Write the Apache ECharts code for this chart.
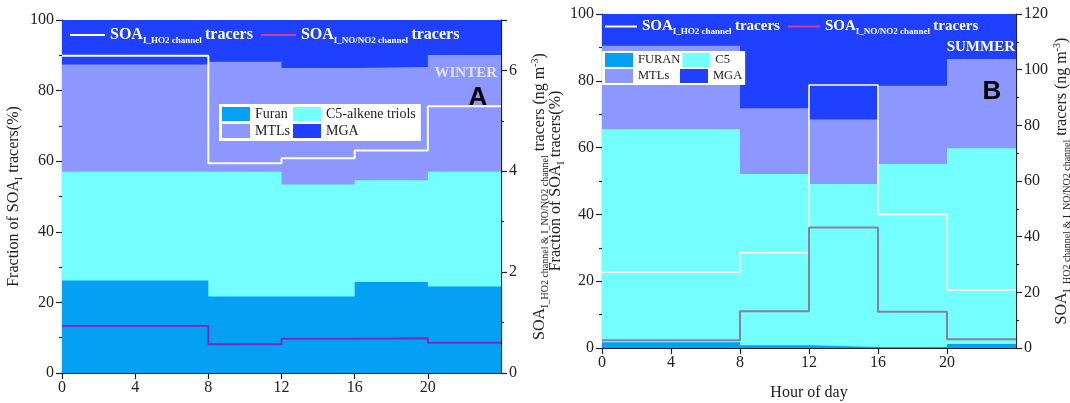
<!DOCTYPE html>
<html>
<head>
<meta charset="utf-8">
<script src="https://cdn.jsdelivr.net/npm/echarts@6/dist/echarts.min.js"></script>
<style>
  html, body { margin: 0; padding: 0; background: #fff; }
  #chart { width: 1070px; height: 403px; }
</style>
</head>
<body>
<div id="chart"></div>
<script>
// Sampling blocks (hour of day): each value holds from one boundary to the next.
const hourBounds = [0, 8, 12, 16, 20, 24];

// Winter (A): fraction of SOA_I tracers, % per block
const winterFuran = [26.2, 21.7, 21.7, 25.8, 24.5];
const winterC5    = [30.8, 35.3, 31.7, 28.8, 32.5];
const winterMTLs  = [30.4, 31.2, 33.0, 32.1, 33.1];
const winterMGA   = [12.6, 11.8, 13.6, 13.3, 9.9];
// Winter tracer concentrations, ng m-3
const winterHO2   = [6.29, 4.16, 4.26, 4.41, 5.29];
const winterNO    = [0.93, 0.57, 0.68, 0.69, 0.60];

// Summer (B): fraction of SOA_I tracers, % per block
const summerFuran = [1.7, 0.8, 0.3, 0.3, 1.2];
const summerC5    = [63.8, 51.3, 48.8, 54.8, 58.6];
const summerMTLs  = [25.0, 19.7, 19.3, 23.4, 26.7];
const summerMGA   = [9.5, 28.2, 31.6, 21.5, 13.5];
// Summer tracer concentrations, ng m-3
const summerHO2   = [27.2, 34.2, 94.5, 48.0, 20.8];
const summerNO    = [2.8, 13.2, 43.3, 13.0, 3.1];

const COLORS = { furan: '#03a0f3', c5: '#74ffff', mtls: '#8c97ff', mga: '#1f40ff' };
const SERIF = '"Liberation Serif", "Times New Roman", serif';
const HO2_NAME = 'SOA_I_HO2 channel tracers';
const NO_NAME = 'SOA_I_NO/NO2 channel tracers';

// value per block -> step points, last block repeated at the closing boundary
function steps(vals) {
  return hourBounds.map((h, i) => [h, vals[Math.min(i, vals.length - 1)]]);
}
// running totals so that each layer is painted from 0 up to its cumulative top
function cumulative(layers) {
  const out = [];
  let acc = layers[0].map(() => 0);
  layers.forEach(l => { acc = acc.map((a, i) => a + l[i]); out.push(acc.slice()); });
  return out;
}

function areaLayers(layers, names, colors, xi, yi) {
  const cum = cumulative(layers);
  return cum.map((vals, k) => ({
    type: 'line', name: names[k], xAxisIndex: xi, yAxisIndex: yi,
    step: 'end', symbol: 'none', silent: true, animation: false,
    lineStyle: { width: 0 }, itemStyle: { color: colors[k] },
    areaStyle: { color: colors[k], opacity: 1 },
    z: 2, data: steps(vals)
  })).reverse();
}
function stepLine(name, vals, color, width, xi, yi) {
  return {
    type: 'line', name, xAxisIndex: xi, yAxisIndex: yi,
    step: 'end', symbol: 'none', silent: true, animation: false,
    lineStyle: { color, width }, itemStyle: { color },
    z: 3, data: steps(vals)
  };
}

const axisBase = {
  axisLine: { show: true, lineStyle: { color: '#222', width: 1.2 } },
  axisTick: { show: true, length: 6, lineStyle: { color: '#222', width: 1.2 } },
  minorTick: { show: true, splitNumber: 2, length: 3, lineStyle: { color: '#222', width: 1.2 } },
  splitLine: { show: false },
  axisLabel: { color: '#222', fontFamily: SERIF, fontSize: 16, margin: 8 }
};
const nameRich = {
  n: { fontFamily: SERIF, fontSize: 16, color: '#222' },
  s: { fontFamily: SERIF, fontSize: 10, color: '#222', verticalAlign: 'bottom', lineHeight: 20 },
  p: { fontFamily: SERIF, fontSize: 10, color: '#222', verticalAlign: 'top', lineHeight: 20 }
};
const fracName = '{n|Fraction of SOA}{s|I}{n| tracers(%)}';
const concName = '{n|SOA}{s|I_HO2 channel & I_NO/NO2 channel}{n| tracers (ng m}{p|-3}{n|)}';

function xAxis(gi, extra) {
  return Object.assign({}, axisBase, {
    type: 'value', gridIndex: gi, min: 0, max: 24, interval: 4,
    minorTick: { show: false },
    axisLabel: Object.assign({}, axisBase.axisLabel, { margin: 7, showMaxLabel: false })
  }, extra || {});
}
function yAxis(gi, pos, min, max, interval, name, gap, extra) {
  return Object.assign({}, axisBase, {
    type: 'value', gridIndex: gi, position: pos, min, max, interval,
    name, nameLocation: 'middle', nameRotate: 90, nameGap: gap,
    nameTextStyle: { rich: nameRich }
  }, extra || {});
}

function lineLegend(left, top, size, iconW, gap) {
  const rich = {
    b: { fontFamily: SERIF, fontSize: size, fontWeight: 'bold', color: '#fff' },
    s: { fontFamily: SERIF, fontSize: 9, fontWeight: 'bold', color: '#fff', verticalAlign: 'bottom', lineHeight: 20 }
  };
  return {
    left, top, orient: 'horizontal', selectedMode: false, z: 50, padding: 0,
    icon: 'rect', itemWidth: iconW, itemHeight: 2, itemGap: gap,
    textStyle: { rich },
    formatter: name => name === HO2_NAME
      ? '{b|SOA}{s|I_HO2 channel} {b|tracers}'
      : '{b|SOA}{s|I_NO/NO2 channel} {b|tracers}',
    data: [
      { name: HO2_NAME, itemStyle: { color: '#ffffff' } },
      { name: NO_NAME, itemStyle: { color: '#c8409c' } }
    ]
  };
}

// two-by-two fill legend; the first column gets a fixed text width so columns line up
function fillLegend(left, top, names, firstColW, size, iconH, gap, boxW, pad) {
  const rich = {
    w: { fontFamily: SERIF, fontSize: size, color: '#222', width: firstColW, lineHeight: iconH },
    t: { fontFamily: SERIF, fontSize: size, color: '#222', lineHeight: iconH }
  };
  return {
    left, top, width: boxW, orient: 'horizontal', selectedMode: false, z: 50,
    padding: pad, backgroundColor: '#ffffff',
    icon: 'rect', itemWidth: 28, itemHeight: iconH, itemGap: gap,
    textStyle: { rich },
    formatter: name => (name === names[0] || name === names[2]) ? '{w|' + name + '}' : '{t|' + name + '}',
    data: names
  };
}

const option = {
  backgroundColor: '#ffffff',
  animation: false,
  grid: [
    { left: 62, right: 569, top: 20, bottom: 30, outerBoundsMode: 'none' },
    { left: 602, right: 54, top: 14, bottom: 55, outerBoundsMode: 'none' }
  ],
  xAxis: [
    xAxis(0),
    xAxis(1, { name: 'Hour of day', nameLocation: 'middle', nameGap: 37,
               nameTextStyle: { fontFamily: SERIF, fontSize: 16, color: '#222' } })
  ],
  yAxis: [
    yAxis(0, 'left', 0, 100, 20, fracName, 38),
    yAxis(0, 'right', 0, 7, 2, concName, 29,
          { axisLabel: Object.assign({}, axisBase.axisLabel, { showMaxLabel: false }) }),
    yAxis(1, 'left', 0, 100, 20, fracName, 31),
    yAxis(1, 'right', 0, 120, 20, concName, 34)
  ],
  legend: [
    lineLegend(70, 27, 16, 35, 8),
    lineLegend(605, 19, 15, 32, 8),
    fillLegend(219, 104, ['Furan', 'C5-alkene triols', 'MTLs', 'MGA'], 35, 14, 14, 3, 210, [3, 5, 3, 3]),
    fillLegend(602, 51, ['FURAN', 'C5', 'MTLs', 'MGA'], 40, 12.5, 14, 2, 150, [2, 3, 2, 3])
  ],
  graphic: [
    { type: 'text', z: 100, style: { text: 'WINTER', x: 497, y: 73, align: 'right', verticalAlign: 'middle',
      font: 'bold 15px "Liberation Serif"', fill: '#dfe3ff' } },
    { type: 'text', z: 100, style: { text: 'SUMMER', x: 1015, y: 47, align: 'right', verticalAlign: 'middle',
      font: 'bold 15px "Liberation Serif"', fill: '#ffffff' } },
    { type: 'text', z: 100, style: { text: 'A', x: 478, y: 98, align: 'center', verticalAlign: 'middle',
      font: 'bold 26px "Liberation Sans"', fill: '#000' } },
    { type: 'text', z: 100, style: { text: 'B', x: 992, y: 92, align: 'center', verticalAlign: 'middle',
      font: 'bold 26px "Liberation Sans"', fill: '#000' } }
  ],
  series: [
    ...areaLayers([winterFuran, winterC5, winterMTLs, winterMGA],
                  ['Furan', 'C5-alkene triols', 'MTLs', 'MGA'],
                  [COLORS.furan, COLORS.c5, COLORS.mtls, COLORS.mga], 0, 0),
    stepLine(HO2_NAME, winterHO2, '#ffffff', 2, 0, 1),
    stepLine(NO_NAME, winterNO, '#7a2dbd', 2, 0, 1),
    ...areaLayers([summerFuran, summerC5, summerMTLs, summerMGA],
                  ['FURAN', 'C5', 'MTLs', 'MGA'],
                  [COLORS.furan, COLORS.c5, COLORS.mtls, COLORS.mga], 1, 2),
    stepLine(HO2_NAME, summerHO2, '#ffffff', 1.6, 1, 3),
    stepLine(NO_NAME, summerNO, '#8c8098', 2, 1, 3)
  ]
};

const chart = echarts.init(document.getElementById('chart'), null, { renderer: 'canvas' });
chart.setOption(option);
</script>
</body>
</html>
